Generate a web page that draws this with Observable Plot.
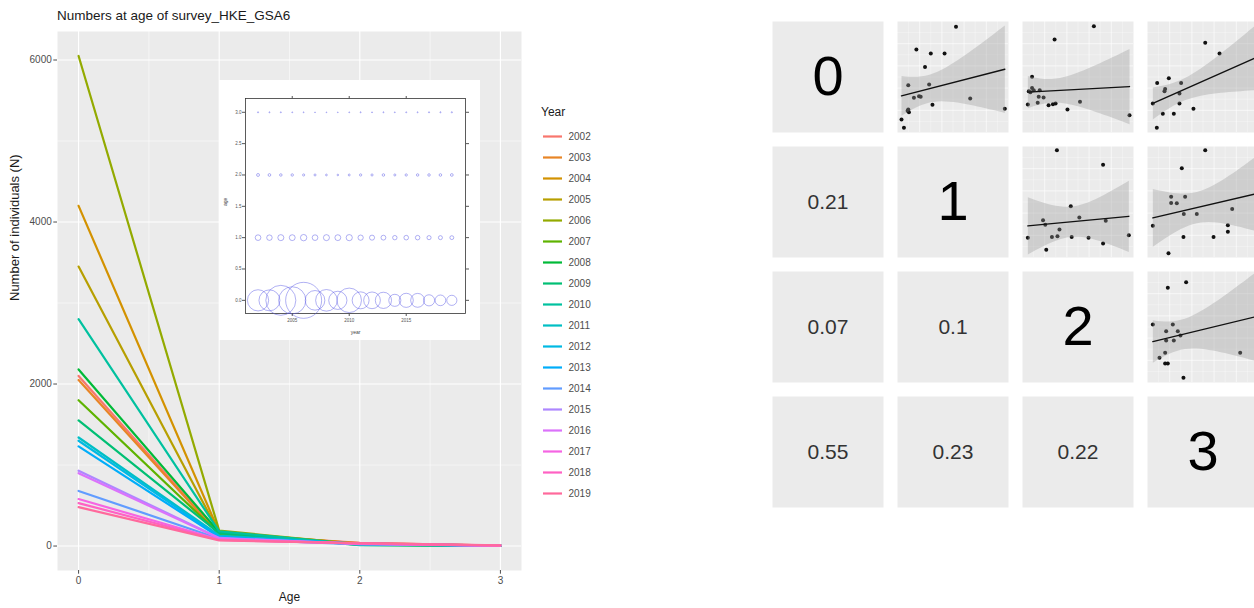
<!DOCTYPE html>
<html>
<head>
<meta charset="utf-8">
<script src="https://cdn.jsdelivr.net/npm/d3@7"></script>
<script src="https://cdn.jsdelivr.net/npm/@observablehq/plot@0.6"></script>
<style>
  html, body { margin: 0; padding: 0; background: #fff; }
  body { width: 1254px; height: 608px; overflow: hidden; position: relative;
         font-family: "Liberation Sans", Arial, sans-serif; }
  .abs { position: absolute; }
  .abs svg { max-width: none !important; }
  #title { left: 57px; top: 8px; font-size: 13.5px; color: #1a1a1a; white-space: nowrap; }
  #legtitle { left: 541px; top: 105px; font-size: 12px; color: #1a1a1a; }
</style>
</head>
<body>
<div id="title" class="abs">Numbers at age of survey_HKE_GSA6</div>
<div id="main" class="abs" style="left:0;top:0;width:530px"></div>
<div id="inset" class="abs" style="left:219px;top:80px;width:261px"></div>
<div id="legtitle" class="abs">Year</div>
<div id="legend" class="abs" style="left:535px;top:100px;width:80px"></div>
<div id="pairs" class="abs" style="left:771px;top:20px;width:488px"></div>
<script>
// ---- numbers at age, survey HKE GSA6 ----
const years = [2002, 2003, 2004, 2005, 2006, 2007, 2008, 2009, 2010,
               2011, 2012, 2013, 2014, 2015, 2016, 2017, 2018, 2019];
const ages = [0, 1, 2, 3];
const nAge0 = [2100, 2050, 4200, 3450, 6050, 1800, 2180, 1550, 2800,
               1340, 1300, 1230, 680, 930, 900, 580, 530, 480];
const nAge1 = [150, 140, 170, 160, 190, 150, 170, 160, 180,
               130, 120, 110, 90, 100, 95, 80, 75, 70];
const nAge2 = [40, 35, 30, 28, 22, 20, 15, 12, 18,
               25, 22, 30, 20, 25, 28, 30, 32, 35];
const nAge3 = [6, 5, 5, 4, 4, 3, 3, 3, 4,
               5, 4, 5, 4, 5, 5, 6, 6, 7];

// axis ticks
const ageTicks = [0, 1, 2, 3];
const ageMinor = [0.5, 1.5, 2.5];
const nTicks = [0, 2000, 4000, 6000];
const nMinor = [1000, 3000, 5000];
const insetAgeTicks = [0, 0.5, 1, 1.5, 2, 2.5, 3];
const insetYearTicks = [2005, 2010, 2015];

// ---- pairwise panels (upper triangle: scatter, lower: correlation) ----
const panel01 = [[52.7,95.2],[17.0,74.8],[30.0,71.2],[42.4,71.2],[24.8,58.9],[9.7,42.6],
                 [28.5,43.2],[14.8,31.2],[19.4,32.7],[20.9,32.1],[65.5,30.6],[31.5,24.9],
                 [9.7,20.7],[10.3,18.3],[9.1,19.5],[96.7,21.3],[3.6,11.7],[5.8,4.2]];
const panel02 = [[64.3,95.8],[28.9,83.8],[8.6,50.2],[8.6,40.2],[5.7,37.2],[10.1,38.1],
                 [15.5,38.1],[14.6,32.1],[19.0,31.5],[4.8,25.2],[13.7,26.7],[23.5,24.6],
                 [27.4,25.5],[29.8,26.1],[40.5,20.7],[51.8,27.6],[96.4,15.6],[7.1,36.3]];
const panel03 = [[52.0,80.8],[64.9,71.2],[8.7,44.7],[19.2,48.9],[30.3,44.7],[15.9,39.3],
                 [15.3,37.2],[28.8,35.1],[4.8,26.1],[28.8,26.1],[41.4,21.3],[13.8,16.8],
                 [23.7,16.8],[8.4,4.2],[97.9,49.2]];
const panel12 = [[31.0,96.7],[72.6,83.6],[43.5,46.1],[51.2,36.1],[18.5,33.6],[20.5,29.4],
                 [75.0,33.0],[33.3,25.2],[4.8,17.9],[26.5,18.5],[31.5,19.1],[44.3,18.5],
                 [59.5,17.9],[72.6,12.7],[95.8,20.0],[21.4,7.0]];
const panel13 = [[52.0,96.7],[30.9,80.3],[21.3,54.8],[33.9,54.8],[21.3,49.1],[26.4,48.8],
                 [32.7,39.1],[44.4,39.1],[76.3,43.6],[4.8,28.5],[72.4,29.1],[72.4,23.3],
                 [32.4,18.5],[59.5,18.5],[18.9,3.9],[97.9,88.0]];
const panel23 = [[34.8,90.4],[18.3,85.3],[4.8,52.3],[22.8,52.3],[16.8,46.2],[27.3,46.2],
                 [29.7,42.3],[16.8,37.8],[23.7,37.8],[15.9,26.7],[10.8,22.2],[15.9,17.1],
                 [18.3,17.1],[83.5,26.7],[32.4,4.2],[97.9,80.0]];
const diagLabels = ["0", "1", "2", "3"];
const corrValues = [0.21, 0.07, 0.1, 0.55, 0.23, 0.22];
const corrRow = [1, 2, 2, 3, 3, 3];
const corrCol = [0, 0, 1, 0, 1, 2];
const panelGrid = [10, 20, 30, 40, 50, 60, 70, 80, 90];

// ---- hue palette (polar CIE-Luv, L = 65, C = 100) ----
function hueColor(h, c = 100, l = 65) {
  const hr = h * Math.PI / 180;
  const u = c * Math.cos(hr), v = c * Math.sin(hr);
  const Xn = 95.047, Yn = 100, Zn = 108.883;
  const den = Xn + 15 * Yn + 3 * Zn;
  const un = 4 * Xn / den, vn = 9 * Yn / den;
  const Y = Yn * Math.pow((l + 16) / 116, 3);
  const up = u / (13 * l) + un, vp = v / (13 * l) + vn;
  const X = Y * 9 * up / (4 * vp);
  const Z = Y * (12 - 3 * up - 20 * vp) / (4 * vp);
  const x = X / 100, y = Y / 100, z = Z / 100;
  const lin = [
     3.2404542 * x - 1.5371385 * y - 0.4985314 * z,
    -0.9692660 * x + 1.8760108 * y + 0.0415560 * z,
     0.0556434 * x - 0.2040259 * y + 1.0572252 * z
  ];
  const [r, g, b] = lin.map(t => {
    const s = t <= 0.0031308 ? 12.92 * t : 1.055 * Math.pow(Math.max(t, 0), 1 / 2.4) - 0.055;
    return Math.round(Math.min(1, Math.max(0, s)) * 255);
  });
  return d3.rgb(r, g, b).formatHex();
}

// ---- derived tables ----
const counts = [nAge0, nAge1, nAge2, nAge3];
const table = years.flatMap((yr, i) => ages.map((a, k) => ({year: yr, age: a, n: counts[k][i]})));
const colors = years.map((_, i) => hueColor(15 + i * 360 / years.length));
const font = '"Liberation Sans", Arial, sans-serif';

// main line chart
document.getElementById("main").append(Plot.plot({
  width: 530, height: 608,
  marginLeft: 57, marginRight: 9, marginTop: 31, marginBottom: 38,
  x: {domain: [-0.15, 3.15]},
  y: {domain: [-302, 6352]},
  color: {domain: years, range: colors},
  style: {fontFamily: font, fontSize: "10px", color: "#4d4d4d", background: "transparent"},
  marks: [
    Plot.frame({fill: "#EBEBEB"}),
    Plot.ruleX(ageMinor, {stroke: "white", strokeWidth: 0.5}),
    Plot.ruleY(nMinor, {stroke: "white", strokeWidth: 0.5}),
    Plot.ruleX(ageTicks, {stroke: "white", strokeWidth: 1.1}),
    Plot.ruleY(nTicks, {stroke: "white", strokeWidth: 1.1}),
    Plot.line(table, {x: "age", y: "n", z: "year", stroke: "year", strokeWidth: 2.2}),
    Plot.axisX({ticks: ageTicks, tickSize: 3.7, tickPadding: 3, tickFormat: "d", label: null, fontSize: 10}),
    Plot.axisY({ticks: nTicks, tickSize: 3.7, tickPadding: 2, tickFormat: d => String(d), label: null, fontSize: 10}),
    Plot.text(["Age"], {frameAnchor: "bottom", dy: 30, fontSize: 12, fill: "#1a1a1a"}),
    Plot.text(["Number of individuals (N)"], {frameAnchor: "left", dx: -43, rotate: -90, fontSize: 13, fill: "#1a1a1a"})
  ]
}));

// colour key
document.getElementById("legend").append(Plot.plot({
  width: 80, height: 410, margin: 0,
  x: {domain: [0, 1], range: [8, 27], axis: null},
  y: {domain: years, type: "point", padding: 0, range: [36, 393], axis: null},
  color: {domain: years, range: colors},
  style: {fontFamily: font, background: "transparent"},
  marks: [
    Plot.ruleY(years, {y: d => d, x1: 0, x2: 1, stroke: d => d, strokeWidth: 2.2}),
    Plot.text(years, {y: d => d, x: 1, dx: 6, text: d => String(d), textAnchor: "start", fontSize: 10, fill: "#4d4d4d"})
  ]
}));

// bubble inset: numbers by year and age
document.getElementById("inset").append(Plot.plot({
  width: 261, height: 260,
  marginLeft: 26, marginRight: 15, marginTop: 18, marginBottom: 27,
  x: {domain: [2000.9, 2020.2]},
  y: {domain: [-0.21, 3.22]},
  r: {type: "sqrt", domain: [0, 6050], range: [0, 18]},
  style: {fontFamily: font, color: "#555", background: "white"},
  marks: [
    Plot.frame({stroke: "#333", strokeWidth: 0.8}),
    Plot.dot(table, {x: "year", y: "age", r: "n", stroke: "#5a5ae6", strokeOpacity: 0.6, strokeWidth: 0.8, fill: "none"}),
    Plot.axisY({anchor: "left", ticks: insetAgeTicks, tickSize: 3, tickPadding: 1, fontSize: 4.5, tickFormat: d3.format(".1f"), label: null}),
    Plot.axisY({anchor: "right", ticks: insetAgeTicks, tickSize: 3, tickFormat: () => "", label: null}),
    Plot.axisX({anchor: "bottom", ticks: insetYearTicks, tickSize: 3, tickPadding: 2, fontSize: 4.5, tickFormat: "d", label: null}),
    Plot.axisX({anchor: "top", ticks: insetYearTicks, tickSize: 3, tickFormat: () => "", label: null}),
    Plot.text(["age"], {frameAnchor: "left", dx: -20, rotate: -90, fontSize: 5, fill: "#444"}),
    Plot.text(["year"], {frameAnchor: "bottom", dy: 20, fontSize: 5, fill: "#444"})
  ]
}));

// pairs matrix
const upper = [
  {fy: 0, fx: 1, pts: panel01}, {fy: 0, fx: 2, pts: panel02}, {fy: 0, fx: 3, pts: panel03},
  {fy: 1, fx: 2, pts: panel12}, {fy: 1, fx: 3, pts: panel13}, {fy: 2, fx: 3, pts: panel23}
];
const points = upper.flatMap(p => p.pts.map(([x, y]) => ({fx: p.fx, fy: p.fy, x, y})));
const gridLines = upper.flatMap(p => panelGrid.map(v => ({fx: p.fx, fy: p.fy, v, major: v % 20 === 0})));
const diag = diagLabels.map((label, i) => ({fx: i, fy: i, label}));
const corr = corrValues.map((v, i) => ({fx: corrCol[i], fy: corrRow[i], label: String(v)}));

document.getElementById("pairs").append(Plot.plot({
  width: 488, height: 488, margin: 0,
  fx: {domain: [0, 1, 2, 3], paddingInner: 0.1116, paddingOuter: 0, axis: null},
  fy: {domain: [0, 1, 2, 3], paddingInner: 0.1116, paddingOuter: 0, axis: null},
  x: {domain: [0, 100], axis: null},
  y: {domain: [0, 100], axis: null},
  style: {fontFamily: font, background: "transparent"},
  marks: [
    Plot.frame({fill: "#EBEBEB"}),
    Plot.ruleX(gridLines, {x: "v", fx: "fx", fy: "fy", stroke: "white", strokeOpacity: 0.8, strokeWidth: d => d.major ? 0.8 : 0.4}),
    Plot.ruleY(gridLines, {y: "v", fx: "fx", fy: "fy", stroke: "white", strokeOpacity: 0.8, strokeWidth: d => d.major ? 0.8 : 0.4}),
    Plot.dot(points, {x: "x", y: "y", fx: "fx", fy: "fy", r: 2, fill: "#111", stroke: "none"}),
    Plot.linearRegressionY(points, {x: "x", y: "y", fx: "fx", fy: "fy", stroke: "#111", strokeWidth: 1.4,
                                    fill: "#999", fillOpacity: 0.35, clip: true}),
    Plot.text(diag, {fx: "fx", fy: "fy", text: "label", frameAnchor: "middle", fontSize: 56, fill: "#000"}),
    Plot.text(corr, {fx: "fx", fy: "fy", text: "label", frameAnchor: "middle", fontSize: 21, fill: "#333"})
  ]
}));
</script>
</body>
</html>
